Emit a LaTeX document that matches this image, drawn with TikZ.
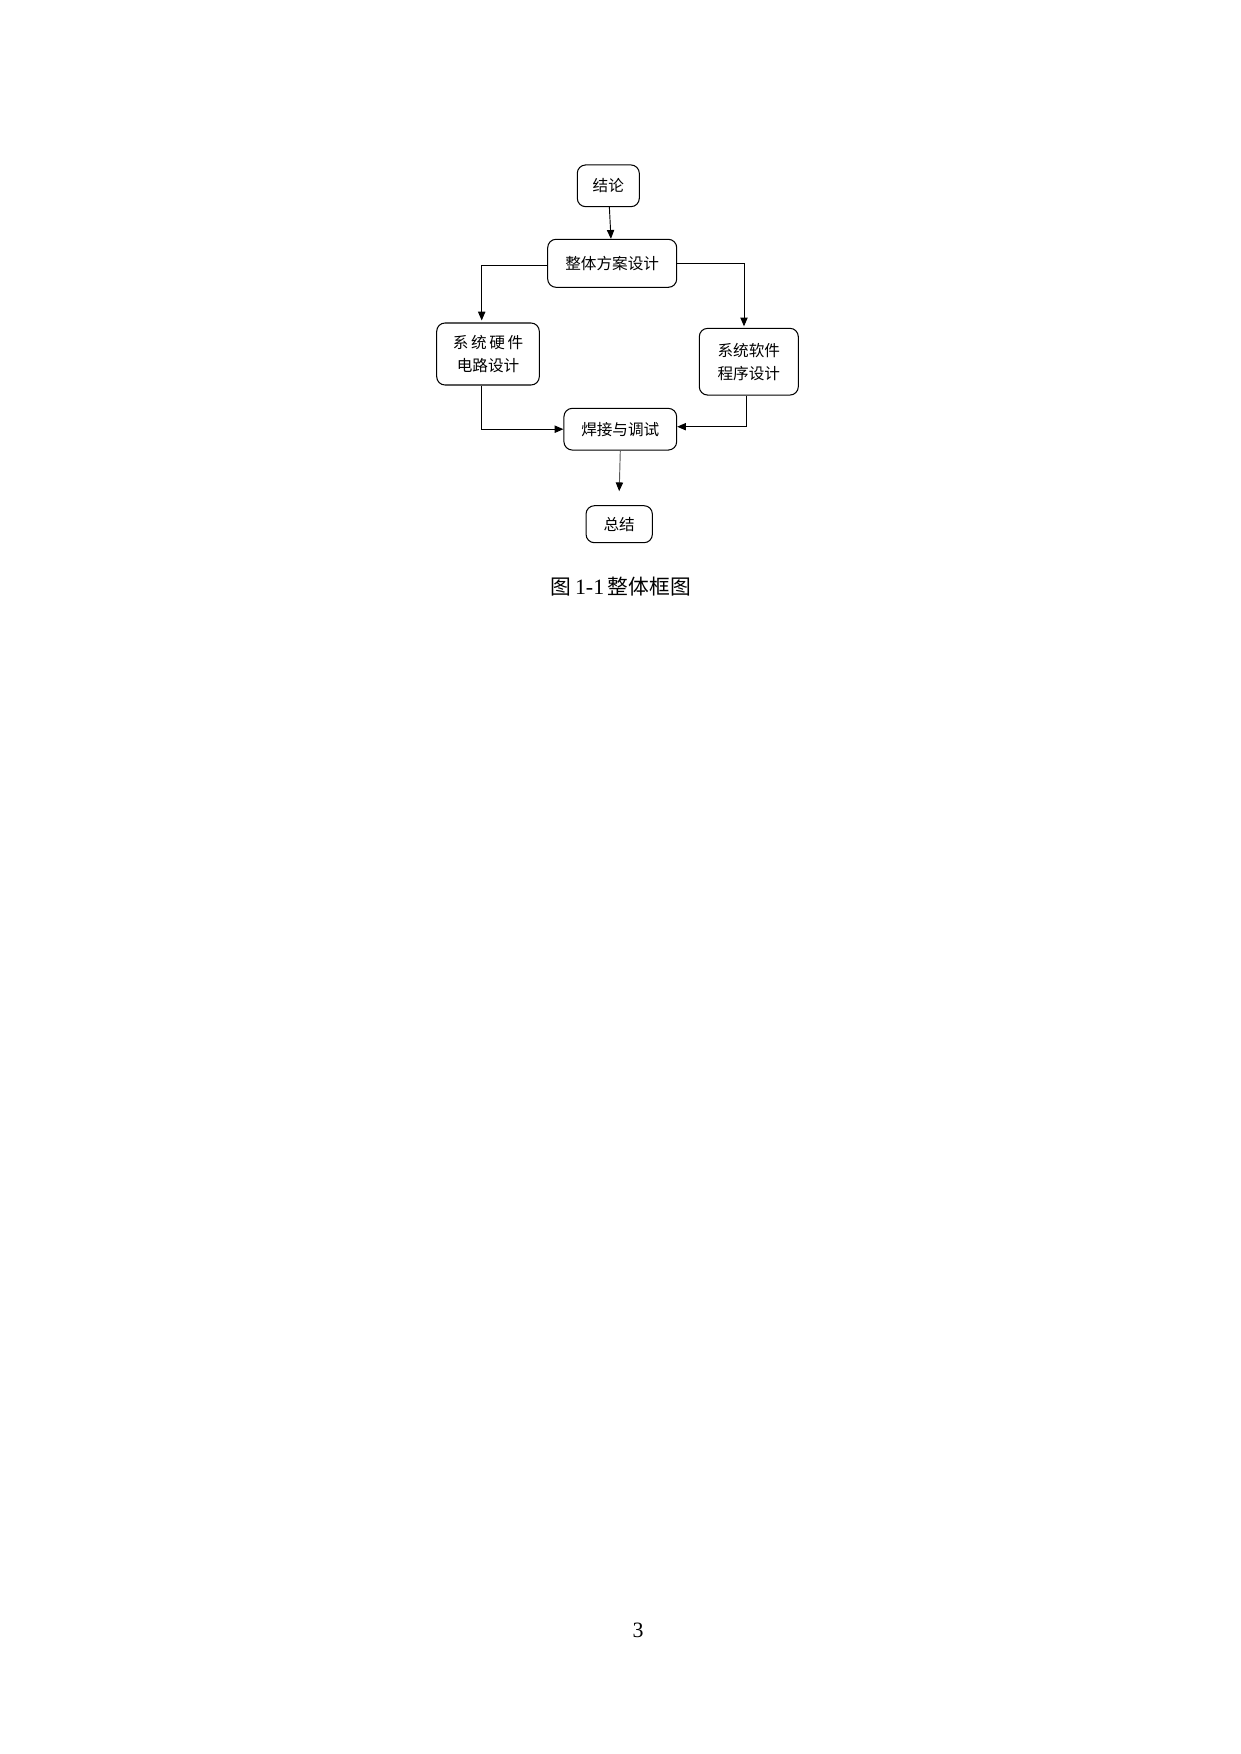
\documentclass[tikz,border=0pt]{standalone}
\usepackage{fontspec}
\setmainfont{Liberation Serif}
\newfontfamily\cjk{Noto Sans CJK SC}
\newfontfamily\cjkcap{Noto Sans CJK SC}[Scale=0.95]
\usetikzlibrary{arrows.meta,calc}
\begin{document}
\begin{tikzpicture}[x=0.480065pt,y=-0.480065pt,
  box/.style={draw=black,line width=0.5pt,rounded corners=4pt,inner sep=0pt,
    align=center,font=\cjk\fontsize{7.5}{11}\selectfont},
  conn/.style={draw=black,line width=0.45pt,-{Triangle[length=4.2pt,width=3.5pt]}},
  connlight/.style={draw=black!65,line width=0.45pt,-{Triangle[length=4.2pt,width=3.5pt,color=black]}}]
\useasboundingbox (0,0) rectangle (1240,1754);
\node[box,minimum width=62*0.480065pt,minimum height=41.7*0.480065pt] (jl) at (608.3,185.8) {结论};
\node[box,minimum width=129*0.480065pt,minimum height=48*0.480065pt] (zt) at (612.2,263.3) {整体方案设计};
\node[box,minimum width=102.6*0.480065pt,minimum height=62*0.480065pt] (hw) at (488,354) {系\,统\,硬\,件\\电路设计};
\node[box,minimum width=99*0.480065pt,minimum height=66.7*0.480065pt] (sw) at (748.8,361.7) {系统软件\\程序设计};
\node[box,minimum width=112.7*0.480065pt,minimum height=41.7*0.480065pt] (hj) at (620.3,429.2) {焊接与调试};
\node[box,minimum width=66.3*0.480065pt,minimum height=37*0.480065pt] (zj) at (619.2,524.2) {总结};
\draw[conn] (jl) -- (zt);
\draw[conn] ($(zt.west)+(0,2.5)$) -| ($(hw.north)+(-6.3,-2)$);
\draw[conn] (zt.east) -| ($(sw.north)+(-4.8,-1.5)$);
\draw[conn] ($(hw.south)+(-6.3,0)$) |- (hj.west);
\draw[conn] ($(sw.south)+(-2.1,0)$) |- ($(hj.east)+(0,-2.5)$);
\draw[connlight] (hj.south) -- ($(zj.north)+(0,-14)$);
\node[font=\fontsize{10.5}{12}\selectfont,inner sep=0pt] (cap) at (620.8,586.7) {{\cjkcap 图}\,1-1\,{\cjkcap 整体框图}};
\node[font=\fontsize{10.5}{12}\selectfont,inner sep=0pt] (pg) at (638,1630) {3};
\end{tikzpicture}
\end{document}
